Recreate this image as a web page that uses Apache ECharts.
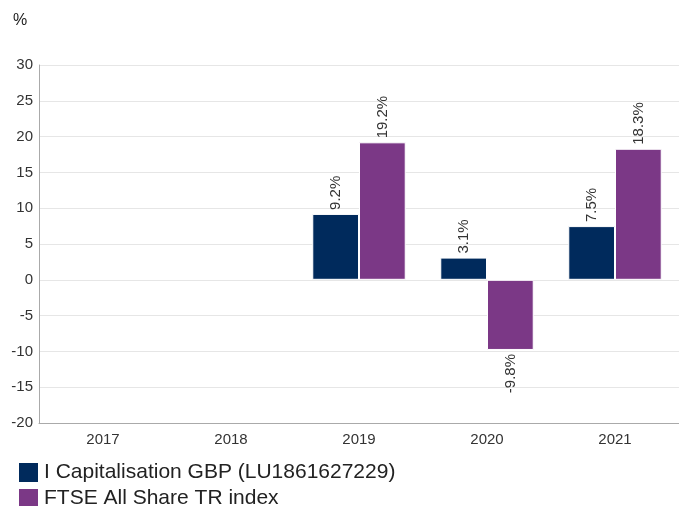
<!DOCTYPE html>
<html><head><meta charset="utf-8">
<script src="https://cdn.jsdelivr.net/npm/echarts@6/dist/echarts.min.js"></script>
<style>html,body{margin:0;padding:0;background:#fff}#c{width:679px;height:506px}</style>
</head><body><div id="c"></div>
<script>
const categories = ['2017', '2018', '2019', '2020', '2021'];
const fundName = 'I Capitalisation GBP (LU1861627229)';
const indexName = 'FTSE All Share TR index';
const fundValues = [null, null, 9.2, 3.1, 7.5];
const indexValues = [null, null, 19.2, -9.8, 18.3];
const yTicks = [-20, -15, -10, -5, 0, 5, 10, 15, 20, 25, 30];

const FONT = '"Liberation Sans", Arial, sans-serif';
function labelled(vals) {
  return vals.map(v => {
    if (v === null) return '-';
    if (v < 0) return { value: v, label: { position: 'bottom', align: 'right', verticalAlign: 'middle' } };
    return { value: v };
  });
}
const baseLabel = {
  show: true, position: 'top', rotate: 90, align: 'left', verticalAlign: 'middle',
  distance: 4, color: '#333', fontSize: 15, fontFamily: FONT,
  formatter: p => p.value.toFixed(1) + '%'
};
const legendBase = {
  orient: 'vertical', left: 17, itemWidth: 21, itemHeight: 21, padding: 0,
  icon: 'rect', textStyle: { fontSize: 21, color: '#222', fontFamily: FONT }, itemGap: 0
};
const chart = echarts.init(document.getElementById('c'), null, { renderer: 'canvas' });
chart.setOption({
  animation: false,
  textStyle: { fontFamily: FONT },
  graphic: [{ type: 'text', left: 13, top: 13, style: { text: '%', fontSize: 16, fill: '#222', fontFamily: FONT } }],
  legend: [
    Object.assign({}, legendBase, { top: 461, data: [fundName] }),
    Object.assign({}, legendBase, { top: 487, data: [indexName] })
  ],
  grid: { left: 39, right: 0, top: 65, bottom: 83, containLabel: false },
  xAxis: {
    type: 'category', data: categories,
    axisLine: { show: true, onZero: false, lineStyle: { color: '#aaa' } },
    axisTick: { show: false },
    axisLabel: { color: '#333', fontSize: 15, margin: 9, fontFamily: FONT }
  },
  yAxis: {
    type: 'value', min: yTicks[0], max: yTicks[yTicks.length - 1], interval: 5,
    axisLine: { show: true, lineStyle: { color: '#aaa' } },
    axisTick: { show: false },
    splitLine: { lineStyle: { color: '#e6e6e6' } },
    axisLabel: { color: '#333', fontSize: 15, margin: 6, fontFamily: FONT }
  },
  series: [
    { name: fundName, type: 'bar', data: labelled(fundValues), barGap: '0%', barCategoryGap: '27%',
      itemStyle: { color: '#002a5c', borderColor: '#fff', borderWidth: 1 }, label: baseLabel },
    { name: indexName, type: 'bar', data: labelled(indexValues),
      itemStyle: { color: '#7b3886', borderColor: '#fff', borderWidth: 1 }, label: baseLabel }
  ]
});
</script></body></html>
